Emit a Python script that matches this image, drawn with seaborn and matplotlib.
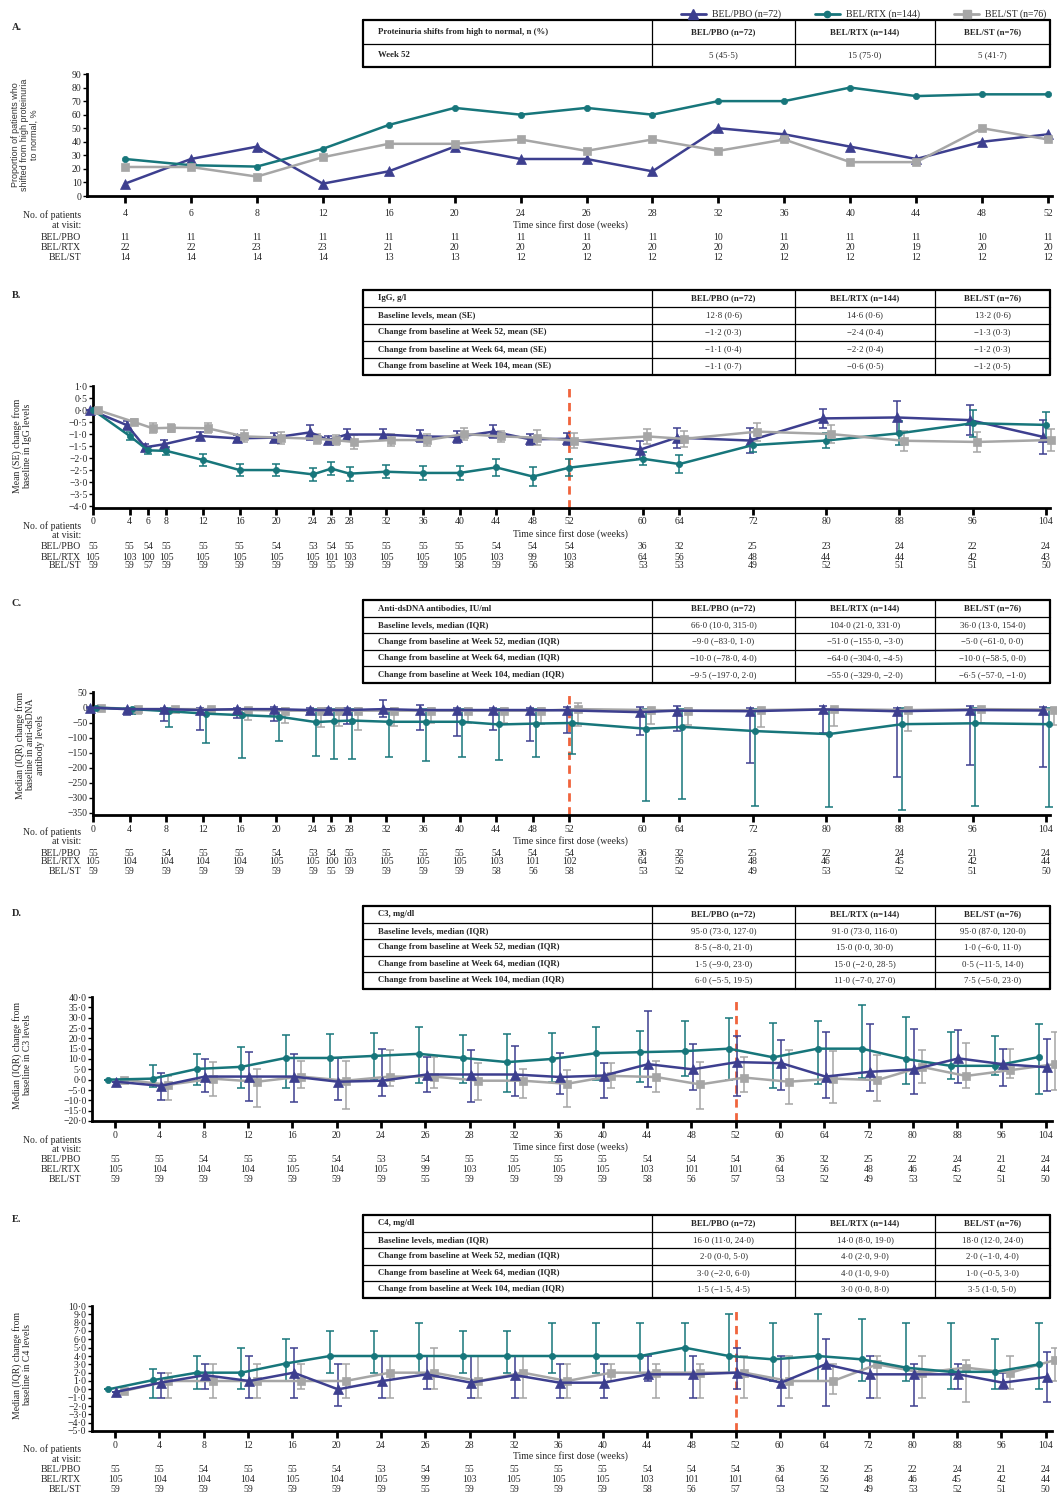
import numpy as np
import pandas as pd
import matplotlib
matplotlib.use("Agg")
import matplotlib.pyplot as plt
import matplotlib.transforms as mtransforms
from matplotlib.lines import Line2D
from matplotlib.ticker import FuncFormatter
import seaborn as sns

# -----------------------
# DATOS
# -----------------------
groups = ["BEL/PBO (n=72)", "BEL/RTX (n=144)", "BEL/ST (n=76)"]

# A. Proteinuria (%)
weeks_a = [4, 6, 8, 12, 16, 20, 24, 26, 28, 32, 36, 40, 44, 48, 52]
prot_pbo = [9.1, 27.3, 36.4, 9.1, 18.2, 36.4, 27.3, 27.3, 18.2, 50.0, 45.5, 36.4, 27.3, 40.0, 45.5]
prot_rtx = [27.3, 22.7, 21.7, 34.8, 52.4, 65.0, 60.0, 65.0, 60.0, 70.0, 70.0, 80.0, 73.7, 75.0, 75.0]
prot_st = [21.4, 21.4, 14.3, 28.6, 38.5, 38.5, 41.7, 33.3, 41.7, 33.3, 41.7, 25.0, 25.0, 50.0, 41.7]
n_a_pbo = [11, 11, 11, 11, 11, 11, 11, 11, 11, 10, 11, 11, 11, 10, 11]
n_a_rtx = [22, 22, 23, 23, 21, 20, 20, 20, 20, 20, 20, 20, 19, 20, 20]
n_a_st = [14, 14, 14, 14, 13, 13, 12, 12, 12, 12, 12, 12, 12, 12, 12]

# B. IgG mean (SE)
weeks_b = [0, 4, 6, 8, 12, 16, 20, 24, 26, 28, 32, 36, 40, 44, 48, 52, 60, 64, 72, 80, 88, 96, 104]
igg_pbo = [0.0, -0.63, -1.55, -1.43, -1.08, -1.18, -1.15, -0.93, -1.25, -1.02, -1.02, -1.1, -1.12, -0.9,
           -1.22, -1.2, -1.65, -1.15, -1.27, -0.35, -0.31, -0.42, -1.12]
igg_pbo_se = [0.0, 0.18, 0.15, 0.18, 0.18, 0.15, 0.2, 0.3, 0.18, 0.24, 0.24, 0.25, 0.24, 0.26,
              0.24, 0.26, 0.38, 0.42, 0.54, 0.39, 0.69, 0.61, 0.71]
igg_rtx = [0.0, -1.08, -1.68, -1.7, -2.08, -2.5, -2.5, -2.68, -2.44, -2.65, -2.57, -2.62, -2.62, -2.39,
           -2.77, -2.4, -2.03, -2.25, -1.46, -1.27, -0.97, -0.55, -0.62]
igg_rtx_se = [0.0, 0.15, 0.14, 0.18, 0.24, 0.25, 0.26, 0.28, 0.28, 0.29, 0.27, 0.3, 0.3, 0.36,
              0.4, 0.36, 0.28, 0.36, 0.27, 0.32, 0.5, 0.57, 0.54]
igg_st = [0.0, -0.5, -0.76, -0.74, -0.76, -1.1, -1.15, -1.2, -1.26, -1.33, -1.25, -1.25, -1.0, -1.1,
          -1.15, -1.28, -1.1, -1.2, -0.9, -1.0, -1.28, -1.33, -1.25]
igg_st_se = [0.0, 0.14, 0.2, 0.17, 0.2, 0.25, 0.25, 0.22, 0.2, 0.28, 0.26, 0.26, 0.24, 0.24,
             0.3, 0.32, 0.33, 0.33, 0.38, 0.38, 0.42, 0.41, 0.45]
n_b_pbo = [55, 55, 54, 55, 55, 55, 54, 53, 54, 55, 55, 55, 55, 54, 54, 54, 36, 32, 25, 23, 24, 22, 24]
n_b_rtx = [105, 103, 100, 105, 105, 105, 105, 105, 101, 103, 105, 105, 105, 103, 99, 103, 64, 56, 48, 44, 44, 42, 43]
n_b_st = [59, 59, 57, 59, 59, 59, 59, 59, 55, 59, 59, 59, 58, 59, 56, 58, 53, 53, 49, 52, 51, 51, 50]

# C. anti-dsDNA median (IQR)
weeks_c = [0, 4, 8, 12, 16, 20, 24, 26, 28, 32, 36, 40, 44, 48, 52, 60, 64, 72, 80, 88, 96, 104]
dna_pbo = [0, -5, -5, -8, -5, -5, -8, -8, -8, -5, -8, -8, -8, -8, -9, -15, -10, -12, -6, -12, -8, -9.5]
dna_pbo_lo = [0, -25, -45, -75, -35, -45, -15, -10, -55, -30, -75, -95, -75, -110, -83, -90, -78, -184, -85, -232, -192, -197]
dna_pbo_hi = [2, 0, 0, 0, 0, 2, 0, 0, 0, 25, 10, 0, 0, 0, 1, 2, 4, 0, 4, 0, 4, 2]
dna_rtx = [0, -5, -12, -20, -25, -30, -48, -45, -43, -47, -47, -47, -56, -53, -51, -70, -64, -78, -88, -55, -52, -55]
dna_rtx_lo = [0, -22, -65, -118, -168, -110, -160, -170, -170, -165, -177, -165, -173, -165, -155, -310, -304, -328,
              -332, -342, -328, -329]
dna_rtx_hi = [0, 0, -2, -3, -3, -3, -5, -3, -3, -3, -3, -3, -3, -3, -3, -3, -4.5, -3, -3, -2, -2, -2]
dna_st = [0, -5, -5, -5, -8, -10, -10, -10, -10, -10, -10, -10, -10, -10, -5, -8, -10, -8, -5, -8, -5, -6.5]
dna_st_lo = [0, -20, -15, -20, -42, -52, -65, -60, -73, -60, -50, -50, -50, -55, -61, -55, -58.5, -66, -60, -77, -50, -57]
dna_st_hi = [0, 0, 0, 0, 0, 0, 0, 0, 0, 0, 0, 0, 0, 0, 15, 0, 0, 0, 0, 0, 0, -1]
n_c_pbo = [55, 55, 54, 55, 55, 54, 53, 54, 55, 55, 55, 55, 54, 54, 54, 36, 32, 25, 22, 24, 21, 24]
n_c_rtx = [105, 104, 104, 104, 104, 105, 105, 100, 103, 105, 105, 105, 103, 101, 102, 64, 56, 48, 46, 45, 42, 44]
n_c_st = [59, 59, 59, 59, 59, 59, 59, 55, 59, 59, 59, 59, 58, 56, 58, 53, 52, 49, 53, 52, 51, 50]

# D. C3 median (IQR)
weeks_d = [0, 4, 8, 12, 16, 20, 24, 26, 28, 32, 36, 40, 44, 48, 52, 60, 64, 72, 80, 88, 96, 104]
c3_rtx = [0, 0.5, 5.2, 6.2, 10.5, 10.5, 11.5, 12.5, 10.5, 8.5, 10, 12.8, 13.3, 13.8, 15, 10.8, 15, 15, 10, 6.7, 6.7, 11]
c3_rtx_lo = [0, -3.5, -2.5, -4, -4, 0, 0, -1.5, -1.5, -6, -1, 0, -1, 1.8, 0, -3.9, -2, 1, -2.3, 0.2, 2.1, -7]
c3_rtx_hi = [0, 7, 12.5, 16, 21.5, 22, 22.5, 25.5, 21.5, 22, 22.6, 25.6, 23.6, 28.5, 30, 27.5, 28.5, 35.9, 30.5, 23, 21.3, 27]
c3_pbo = [-1, -3, 1.5, 1.5, 1.5, -1, -0.5, 2.5, 2.5, 2.5, 1.3, 2, 7.5, 5, 8.5, 8, 1.5, 3.8, 5, 10.3, 7.5, 6]
c3_pbo_lo = [-1, -10, -6, -10.5, -11, -10, -8, -6, -11, -8, -6.9, -8.9, -3.4, -5.2, -8, -5.2, -9, -5.6, -6.9, -1.5, -3, -5.5]
c3_pbo_hi = [-1, 3, 10, 13.5, 12.5, 10.5, 15, 11, 14.5, 16.5, 12.8, 8, 33.3, 17.4, 21, 19, 23, 27, 24.4, 24, 15, 19.5]
c3_st = [0, -2.5, 0.5, -1, 1.5, -0.5, 1.5, 1.5, -0.5, -0.5, -2, 1.8, 1.3, -2.3, 1, -1, 0.5, -0.2, 6.2, 1.8, 4.6, 7.5]
c3_st_lo = [0, -10, -8, -13, -4, -14, -3, -4, -10, -9, -13, -3.9, -6, -14.3, -6, -11.8, -11.5, -10.2, -1.5, -3.9, 0.7, -5]
c3_st_hi = [0, 2, 8.5, 5, 9, 9, 14.5, 11, 8, 5, 4.8, 7.9, 9.2, 8.7, 11, 14.4, 14, 12, 14.4, 17.7, 14.6, 23]
n_d_pbo = [55, 55, 54, 55, 55, 54, 53, 54, 55, 55, 55, 55, 54, 54, 54, 36, 32, 25, 22, 24, 21, 24]
n_d_rtx = [105, 104, 104, 104, 105, 104, 105, 99, 103, 105, 105, 105, 103, 101, 101, 64, 56, 48, 46, 45, 42, 44]
n_d_st = [59, 59, 59, 59, 59, 59, 59, 55, 59, 59, 59, 59, 58, 56, 57, 53, 52, 49, 53, 52, 51, 50]

# E. C4 median (IQR)
c4_rtx = [0, 1.1, 2, 2, 3.1, 4, 4, 4, 4, 4, 4, 4, 4, 5, 4, 3.6, 4, 3.6, 2.6, 2.1, 2.1, 3]
c4_rtx_lo = [0, -1, 0, 0, 1, 2, 2, 2, 2, 2, 2, 2, 2, 2, 2, 1, 1, 1, 1, 0, 0, 0]
c4_rtx_hi = [0, 2.5, 4, 5, 6, 7, 7, 8, 7, 7, 8, 8, 8, 8, 9, 8, 9, 8.5, 8, 8, 6, 8]
c4_pbo = [-0.3, 0.8, 1.7, 1, 2, 0, 1, 1.8, 0.8, 1.7, 0.8, 0.8, 1.8, 1.8, 2, 0.8, 3, 1.8, 1.8, 1.8, 0.8, 1.5]
c4_pbo_lo = [-0.3, -1, 0, -1, -1, -2, -1, 0, -1, -1, -1, -1, 1, -1, 0, -2, -2, -1, -2, 0, 0, -1.5]
c4_pbo_hi = [-0.3, 2, 3, 4, 5, 3, 4, 4, 4, 4, 3, 3, 4, 4, 5, 4, 6, 4, 3, 3, 2, 4.5]
c4_st = [-0.2, 1, 1, 1, 1, 1, 2, 2, 1, 2, 1, 2, 2, 2, 2, 1, 1, 3, 2, 2.6, 2, 3.5]
c4_st_lo = [-0.2, -1, -1, -1, 0, -1, -1, 0, -1, -1, -1, 1, -1, -1, -1, -1, -0.5, -1, -1, -1.5, 0, 1]
c4_st_hi = [-0.2, 2, 3, 3, 3, 3, 4, 5, 4, 4, 3, 3, 3, 3, 4, 4, 3, 4, 4, 3.5, 4, 5]
n_e_pbo = n_d_pbo
n_e_rtx = n_d_rtx
n_e_st = n_d_st

# Tablas
tab_a = [["Proteinuria shifts from high to normal, n (%)", "BEL/PBO (n=72)", "BEL/RTX (n=144)", "BEL/ST (n=76)"],
         ["Week 52", "5 (45·5)", "15 (75·0)", "5 (41·7)"]]
tab_b = [["IgG, g/l", "BEL/PBO (n=72)", "BEL/RTX (n=144)", "BEL/ST (n=76)"],
         ["Baseline levels, mean (SE)", "12·8 (0·6)", "14·6 (0·6)", "13·2 (0·6)"],
         ["Change from baseline at Week 52, mean (SE)", "−1·2 (0·3)", "−2·4 (0·4)", "−1·3 (0·3)"],
         ["Change from baseline at Week 64, mean (SE)", "−1·1 (0·4)", "−2·2 (0·4)", "−1·2 (0·3)"],
         ["Change from baseline at Week 104, mean (SE)", "−1·1 (0·7)", "−0·6 (0·5)", "−1·2 (0·5)"]]
tab_c = [["Anti-dsDNA antibodies, IU/ml", "BEL/PBO (n=72)", "BEL/RTX (n=144)", "BEL/ST (n=76)"],
         ["Baseline levels, median (IQR)", "66·0 (10·0, 315·0)", "104·0 (21·0, 331·0)", "36·0 (13·0, 154·0)"],
         ["Change from baseline at Week 52, median (IQR)", "−9·0 (−83·0, 1·0)", "−51·0 (−155·0, −3·0)", "−5·0 (−61·0, 0·0)"],
         ["Change from baseline at Week 64, median (IQR)", "−10·0 (−78·0, 4·0)", "−64·0 (−304·0, −4·5)", "−10·0 (−58·5, 0·0)"],
         ["Change from baseline at Week 104, median (IQR)", "−9·5 (−197·0, 2·0)", "−55·0 (−329·0, −2·0)", "−6·5 (−57·0, −1·0)"]]
tab_d = [["C3, mg/dl", "BEL/PBO (n=72)", "BEL/RTX (n=144)", "BEL/ST (n=76)"],
         ["Baseline levels, median (IQR)", "95·0 (73·0, 127·0)", "91·0 (73·0, 116·0)", "95·0 (87·0, 120·0)"],
         ["Change from baseline at Week 52, median (IQR)", "8·5 (−8·0, 21·0)", "15·0 (0·0, 30·0)", "1·0 (−6·0, 11·0)"],
         ["Change from baseline at Week 64, median (IQR)", "1·5 (−9·0, 23·0)", "15·0 (−2·0, 28·5)", "0·5 (−11·5, 14·0)"],
         ["Change from baseline at Week 104, median (IQR)", "6·0 (−5·5, 19·5)", "11·0 (−7·0, 27·0)", "7·5 (−5·0, 23·0)"]]
tab_e = [["C4, mg/dl", "BEL/PBO (n=72)", "BEL/RTX (n=144)", "BEL/ST (n=76)"],
         ["Baseline levels, median (IQR)", "16·0 (11·0, 24·0)", "14·0 (8·0, 19·0)", "18·0 (12·0, 24·0)"],
         ["Change from baseline at Week 52, median (IQR)", "2·0 (0·0, 5·0)", "4·0 (2·0, 9·0)", "2·0 (−1·0, 4·0)"],
         ["Change from baseline at Week 64, median (IQR)", "3·0 (−2·0, 6·0)", "4·0 (1·0, 9·0)", "1·0 (−0·5, 3·0)"],
         ["Change from baseline at Week 104, median (IQR)", "1·5 (−1·5, 4·5)", "3·0 (0·0, 8·0)", "3·5 (1·0, 5·0)"]]

# -----------------------
# ESTILO
# -----------------------
sns.set_theme(style="ticks")
plt.rcParams["font.family"] = ["Liberation Serif", "DejaVu Serif"]
plt.rcParams["axes.unicode_minus"] = True

C_PBO = "#3d3f8f"
C_RTX = "#17767b"
C_ST = "#a6a6a6"
C_DASH = "#f0643c"
FS = 7

W, H = 1057, 1497
fig = plt.figure(figsize=(W / 100, H / 100), dpi=100)


def fx(x):
    return x / W


def fy(y):
    return 1 - y / H


def add_ax(left, top, right, bottom):
    ax = fig.add_axes([fx(left), fy(bottom), (right - left) / W, (bottom - top) / H])
    ax.set_facecolor("white")
    for s in ["top", "right"]:
        ax.spines[s].set_visible(False)
    for s in ["left", "bottom"]:
        ax.spines[s].set_linewidth(2)
        ax.spines[s].set_color("black")
    ax.tick_params(axis="x", direction="out", length=5, width=2, labelbottom=False, color="black")
    ax.tick_params(axis="y", direction="out", length=3, width=1, labelsize=FS, pad=1, color="black")
    ax.set_xlabel("")
    ax.set_ylabel("")
    return ax


def dot_fmt(dec):
    def f(v, pos):
        s = f"{abs(v):.{dec}f}".replace(".", "·")
        return ("−" + s) if v < -1e-9 else s
    return FuncFormatter(f)


def series(ax, x, y, color, marker, ms, lo=None, hi=None):
    x = np.asarray(x, float)
    y = np.asarray(y, float)
    if lo is not None:
        lo = np.asarray(lo, float)
        hi = np.asarray(hi, float)
        err = [np.clip(y - lo, 0, None), np.clip(hi - y, 0, None)]
        ax.errorbar(x, y, yerr=err, fmt="none", ecolor=color, elinewidth=1.1,
                    capsize=3, capthick=1.1, zorder=2, clip_on=False)
    df = pd.DataFrame({"x": x, "y": y})
    sns.lineplot(data=df, x="x", y="y", ax=ax, color=color, marker=marker, markersize=ms,
                 markeredgecolor=color, markeredgewidth=0.5, linewidth=1.8, zorder=3,
                 clip_on=False, sort=False)


def bottom_text(ax, xs, labels, tick_y, title_y, rows_y, pat_y, n_rows):
    tr = mtransforms.blended_transform_factory(ax.transData, fig.transFigure)
    for x, lab in zip(xs, labels):
        fig.text(x, fy(tick_y), str(lab), transform=tr, ha="center", va="center", fontsize=FS)
    fig.text(fx(570), fy(title_y), "Time since first dose (weeks)", ha="center", va="center", fontsize=FS)
    fig.text(fx(81), fy(pat_y), "No. of patients", ha="right", va="center", fontsize=FS)
    fig.text(fx(81), fy(pat_y + 10), "at visit:", ha="right", va="center", fontsize=FS)
    names = ["BEL/PBO", "BEL/RTX", "BEL/ST"]
    for name, ry, vals in zip(names, rows_y, n_rows):
        fig.text(fx(81), fy(ry), name, ha="right", va="center", fontsize=FS)
        for x, v in zip(xs, vals):
            fig.text(x, fy(ry), str(v), transform=tr, ha="center", va="center", fontsize=FS)


def draw_table(top, row_h, rows):
    cols = [363, 652, 795, 935, 1050]
    bottom = top + row_h * len(rows)
    for i in range(len(rows) + 1):
        y = top + i * row_h
        lw = 1.6 if i in (0, len(rows)) else 0.9
        fig.add_artist(Line2D([fx(cols[0]), fx(cols[-1])], [fy(y), fy(y)], color="black", lw=lw))
    for j, c in enumerate(cols):
        lw = 1.6 if j in (0, len(cols) - 1) else 0.9
        fig.add_artist(Line2D([fx(c), fx(c)], [fy(top), fy(bottom)], color="black", lw=lw))
    for i, row in enumerate(rows):
        yc = fy(top + (i + 0.5) * row_h)
        for j, txt in enumerate(row):
            bold = (i == 0) or (j == 0)
            if j == 0:
                fig.text(fx(cols[0] + 15), yc, txt, ha="left", va="center", fontsize=6.3,
                         fontweight="bold" if bold else "normal")
            else:
                fig.text(fx((cols[j] + cols[j + 1]) / 2), yc, txt, ha="center", va="center",
                         fontsize=6.3, fontweight="bold" if bold else "normal")


def panel_letter(y, letter):
    fig.text(fx(12), fy(y), letter, ha="left", va="center", fontsize=7.5, fontweight="bold")


# -----------------------
# LEYENDA
# -----------------------
handles = [Line2D([], [], color=C_PBO, marker="^", markersize=7, lw=2),
           Line2D([], [], color=C_RTX, marker="o", markersize=4.5, lw=2),
           Line2D([], [], color=C_ST, marker="s", markersize=6, lw=2)]
fig.legend(handles, groups, loc="upper right", bbox_to_anchor=(fx(1055), fy(1)), ncol=3,
           frameon=False, fontsize=FS, handlelength=2.6, columnspacing=3.5, handletextpad=0.6)

# -----------------------
# PANEL A
# -----------------------
panel_letter(28, "A.")
draw_table(20, 23.5, tab_a)
axA = add_ax(87, 74, 1052, 196)
idx_a = np.arange(len(weeks_a))
series(axA, idx_a, prot_pbo, C_PBO, "^", 7)
series(axA, idx_a, prot_rtx, C_RTX, "o", 4.5)
series(axA, idx_a, prot_st, C_ST, "s", 6)
axA.set_xlim(-0.576, 14.06)
axA.set_ylim(0, 90)
axA.set_xticks(idx_a)
axA.set_yticks(range(0, 91, 10))
axA.set_xlabel("")
axA.set_ylabel("")
fig.text(fx(25), fy(135), "Proportion of patients who\nshifted from high proteinuria\nto normal, %",
         rotation=90, ha="center", va="center", fontsize=6.5, family=["Liberation Sans", "DejaVu Sans"],
         color="#333333", linespacing=1.0)
bottom_text(axA, idx_a, weeks_a, 213, 225, [238, 248, 257], 215, [n_a_pbo, n_a_rtx, n_a_st])

# -----------------------
# PANEL B
# -----------------------
panel_letter(295, "B.")
draw_table(290, 17, tab_b)
axB = add_ax(93, 386, 1050, 508)
wb = np.asarray(weeks_b, float)
axB.axvline(52, color=C_DASH, ls=(0, (3, 2)), lw=2, zorder=1)
series(axB, wb - 0.3, igg_pbo, C_PBO, "^", 7, np.subtract(igg_pbo, igg_pbo_se), np.add(igg_pbo, igg_pbo_se))
series(axB, wb, igg_rtx, C_RTX, "o", 4.5, np.subtract(igg_rtx, igg_rtx_se), np.add(igg_rtx, igg_rtx_se))
series(axB, wb + 0.5, igg_st, C_ST, "s", 6, np.subtract(igg_st, igg_st_se), np.add(igg_st, igg_st_se))
axB.set_xlim(0, 104.44)
axB.set_ylim(-4.08, 1.0)
axB.set_xticks(weeks_b)
axB.set_yticks(np.arange(-4, 1.01, 0.5))
axB.yaxis.set_major_formatter(dot_fmt(1))
axB.set_xlabel("")
axB.set_ylabel("")
fig.text(fx(22), fy(446), "Mean (SE) change from\nbaseline in IgG levels", rotation=90,
         ha="center", va="center", fontsize=FS, linespacing=1.1)
bottom_text(axB, weeks_b, weeks_b, 522, 534, [547, 557, 566], 526, [n_b_pbo, n_b_rtx, n_b_st])

# -----------------------
# PANEL C
# -----------------------
panel_letter(604, "C.")
draw_table(600, 16.6, tab_c)
axC = add_ax(93, 692, 1050, 815)
wc = np.asarray(weeks_c, float)
axC.axvline(52, color=C_DASH, ls=(0, (3, 2)), lw=2, zorder=1)
series(axC, wc + 0.9, dna_st, C_ST, "s", 6, dna_st_lo, dna_st_hi)
series(axC, wc + 0.3, dna_rtx, C_RTX, "o", 4.5, dna_rtx_lo, dna_rtx_hi)
series(axC, wc - 0.3, dna_pbo, C_PBO, "^", 7, dna_pbo_lo, dna_pbo_hi)
axC.set_xlim(0, 104.44)
axC.set_ylim(-357, 52)
axC.set_xticks(weeks_c)
axC.set_yticks(range(-350, 51, 50))
axC.yaxis.set_major_formatter(dot_fmt(0))
axC.set_xlabel("")
axC.set_ylabel("")
fig.text(fx(30), fy(745), "Median (IQR) change from\nbaseline in anti-dsDNA\nantibody levels", rotation=90,
         ha="center", va="center", fontsize=FS, linespacing=1.1)
bottom_text(axC, weeks_c, weeks_c, 830, 841, [853, 862, 872], 832, [n_c_pbo, n_c_rtx, n_c_st])

# -----------------------
# PANEL D
# -----------------------
panel_letter(913, "D.")
draw_table(906, 16.5, tab_d)
axD = add_ax(92, 997, 1052, 1121)
idx_d = np.arange(len(weeks_d), dtype=float)
axD.axvline(weeks_d.index(52), color=C_DASH, ls=(0, (3, 2)), lw=2, zorder=1)
series(axD, idx_d + 0.2, c3_st, C_ST, "s", 6, c3_st_lo, c3_st_hi)
series(axD, idx_d - 0.15, c3_rtx, C_RTX, "o", 4.5, c3_rtx_lo, c3_rtx_hi)
series(axD, idx_d + 0.03, c3_pbo, C_PBO, "^", 7, c3_pbo_lo, c3_pbo_hi)
axD.set_xlim(-0.52, 21.14)
axD.set_ylim(-20, 40)
axD.set_xticks(idx_d)
axD.set_yticks(range(-20, 41, 5))
axD.yaxis.set_major_formatter(dot_fmt(1))
axD.set_xlabel("")
axD.set_ylabel("")
fig.text(fx(22), fy(1055), "Median (IQR) change from\nbaseline in C3 levels", rotation=90,
         ha="center", va="center", fontsize=FS, linespacing=1.1)
bottom_text(axD, idx_d, weeks_d, 1135, 1147, [1160, 1170, 1180], 1140, [n_d_pbo, n_d_rtx, n_d_st])

# -----------------------
# PANEL E
# -----------------------
panel_letter(1220, "E.")
draw_table(1215, 16.5, tab_e)
axE = add_ax(92, 1306, 1052, 1431)
axE.axvline(weeks_d.index(52), color=C_DASH, ls=(0, (3, 2)), lw=2, zorder=1)
series(axE, idx_d + 0.2, c4_st, C_ST, "s", 6, c4_st_lo, c4_st_hi)
series(axE, idx_d - 0.15, c4_rtx, C_RTX, "o", 4.5, c4_rtx_lo, c4_rtx_hi)
series(axE, idx_d + 0.03, c4_pbo, C_PBO, "^", 7, c4_pbo_lo, c4_pbo_hi)
axE.set_xlim(-0.52, 21.14)
axE.set_ylim(-5, 10)
axE.set_xticks(idx_d)
axE.set_yticks(range(-5, 11, 1))
axE.yaxis.set_major_formatter(dot_fmt(1))
axE.set_xlabel("")
axE.set_ylabel("")
fig.text(fx(22), fy(1365), "Median (IQR) change from\nbaseline in C4 levels", rotation=90,
         ha="center", va="center", fontsize=FS, linespacing=1.1)
bottom_text(axE, idx_d, weeks_d, 1445, 1456, [1470, 1480, 1490], 1449, [n_e_pbo, n_e_rtx, n_e_st])

for ax in [axA, axB, axC, axD, axE]:
    ax.yaxis.set_tick_params(labelsize=FS)
    for lab in ax.get_yticklabels():
        lab.set_fontsize(FS)

fig.savefig("out.png", dpi=100, facecolor="white")
